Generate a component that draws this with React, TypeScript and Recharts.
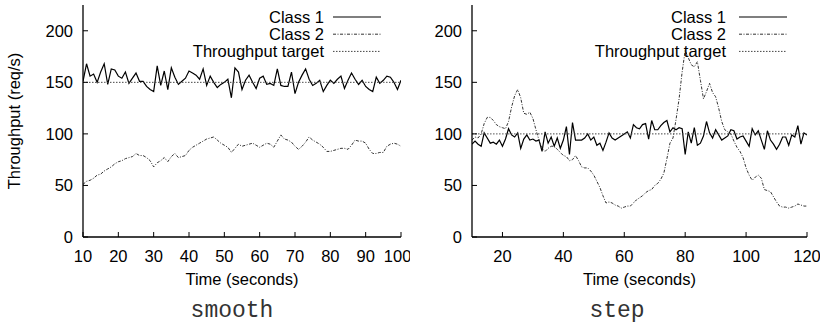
import React from 'react';
import { LineChart, Line, XAxis, YAxis, Legend, Label } from 'recharts';

// ---------- data ----------
const SMOOTH_START = 10;
const smoothClass1 = [
  151, 168, 156, 158, 150, 160, 168, 148, 163, 162,
  156, 154, 160, 149, 154, 159, 151, 151, 146, 143,
  141, 166, 147, 161, 143, 164, 155, 148, 151, 154,
  161, 159, 157, 153, 163, 147, 156, 150, 145, 148,
  150, 153, 135, 164, 160, 143, 152, 157, 150, 144,
  154, 156, 148, 149, 147, 163, 147, 146, 146, 160,
  139, 150, 157, 163, 153, 147, 149, 152, 141, 147,
  152, 149, 153, 156, 144, 152, 159, 153, 148, 152,
  146, 143, 141, 155, 149, 152, 156, 155, 150, 143,
  152,
];
const smoothClass2 = [
  51, 54, 55, 57, 60, 61, 64, 66, 68, 71,
  73, 74, 76, 77, 78, 81, 79, 79, 77, 74,
  68, 72, 74, 77, 73, 78, 81, 77, 78, 79,
  84, 87, 89, 91, 93, 95, 96, 97, 94, 91,
  89, 87, 82, 86, 90, 88, 89, 90, 91, 89,
  87, 89, 91, 90, 87, 93, 99, 95, 94, 92,
  88, 85, 88, 92, 97, 94, 92, 90, 87, 83,
  83, 84, 85, 86, 86, 85, 89, 94, 93, 93,
  91, 85, 81, 81, 82, 82, 88, 90, 91, 90,
  88,
];
const SMOOTH_TARGET = 150;
const smoothXTicks = [10, 20, 30, 40, 50, 60, 70, 80, 90, 100];

const STEP_START = 10;
const stepClass1 = [
  90, 93, 90, 88, 101, 96, 91, 92, 90, 94,
  88, 95, 105, 99, 97, 101, 86, 95, 99, 94,
  95, 93, 94, 83, 102, 91, 97, 88, 96, 86,
  94, 107, 80, 111, 94, 94, 94, 96, 100, 94,
  97, 89, 91, 84, 92, 101, 96, 94, 96, 98,
  100, 102, 96, 109, 106, 105, 109, 110, 95, 113,
  104, 104, 108, 111, 113, 102, 106, 104, 106, 105,
  80, 102, 91, 106, 89, 91, 98, 112, 101, 96,
  104, 99, 94, 96, 98, 104, 103, 95, 97, 98,
  93, 88, 105, 99, 103, 94, 85, 103, 94, 90,
  85, 90, 97, 97, 89, 99, 97, 108, 90, 101,
  99,
];
const stepClass2 = [
  94, 97, 96, 100, 110, 116, 116, 113, 109, 107,
  106, 105, 112, 126, 137, 143, 135, 120, 119, 121,
  115, 104, 94, 86, 83, 86, 88, 88, 85, 82,
  79, 78, 74, 75, 79, 74, 68, 67, 67, 64,
  60, 54, 48, 40, 33, 34, 33, 31, 30, 28,
  29, 30, 30, 33, 36, 38, 40, 43, 45, 46,
  50, 52, 56, 62, 76, 91, 96, 114, 134, 160,
  181, 174, 167, 165, 170, 152, 134, 141, 149, 140,
  136, 125, 112, 104, 102, 100, 93, 87, 83, 77,
  67, 60, 55, 58, 60, 57, 46, 45, 44, 39,
  34, 30, 29, 29, 28, 29, 30, 32, 31, 30,
  30,
];
const STEP_TARGET = 100;
const stepXTicks = [20, 40, 60, 80, 100, 120];

const yTicks = [0, 50, 100, 150, 200];
const seriesNames = ['Class 1', 'Class 2', 'Throughput target'];

// ---------- styles ----------
const SANS = '"Liberation Sans", Arial, Helvetica, sans-serif';
const MONO = '"Liberation Mono", "Courier New", monospace';
const FS = 16.5;
const SERIES = [
  { key: 'c1', name: seriesNames[0], stroke: '#000', width: 1.2, dash: undefined as string | undefined },
  { key: 'c2', name: seriesNames[1], stroke: '#333', width: 1, dash: '3 1.5 1 1.5' },
  { key: 'target', name: seriesNames[2], stroke: '#444', width: 1, dash: '1.5 1.5' },
];

function buildRows(start: number, c1: number[], c2: number[], target: number) {
  return c1.map((v, i) => ({ t: start + i, c1: v, c2: c2[i], target }));
}

const smoothData = buildRows(SMOOTH_START, smoothClass1, smoothClass2, SMOOTH_TARGET);
const stepData = buildRows(STEP_START, stepClass1, stepClass2, STEP_TARGET);

const tickStyle = { fill: '#000', fontSize: FS, fontFamily: SANS };

function LegendBox({ textEnd, lineStart, lineEnd }: { textEnd: number; lineStart: number; lineEnd: number }) {
  return (
    <svg width={230} height={62} style={{ display: 'block', overflow: 'visible' }}>
      {SERIES.map((s, i) => {
        const y = 23 + i * 17.2;
        return (
          <g key={s.key}>
            <text x={textEnd} y={y} textAnchor="end" fontSize={FS} fontFamily={SANS} fill="#000">
              {s.name}
            </text>
            <line
              x1={lineStart}
              x2={lineEnd}
              y1={y - 6}
              y2={y - 6}
              stroke={s.stroke}
              strokeWidth={s.width}
              strokeDasharray={s.dash}
            />
          </g>
        );
      })}
    </svg>
  );
}

type PanelProps = {
  left: number;
  width: number;
  yAxisWidth: number;
  marginRight: number;
  data: any[];
  xTicks: number[];
  xDomain: [number, number];
  showYLabel: boolean;
  legendTextEnd: number;
  legendLineStart: number;
  legendLineEnd: number;
};

function Panel(p: PanelProps) {
  return (
    <div style={{ position: 'absolute', left: p.left, top: 0 }}>
      <LineChart
        width={p.width}
        height={290}
        data={p.data}
        margin={{ top: 5, right: p.marginRight, bottom: 0, left: 0 }}
      >
        <XAxis
          xAxisId="b"
          dataKey="t"
          type="number"
          domain={p.xDomain}
          ticks={p.xTicks}
          allowDataOverflow
          height={53}
          tick={tickStyle}
          tickSize={-5}
          tickMargin={18}
          stroke="#000"
          axisLine={{ stroke: '#000', strokeWidth: 1.3 }}
          tickLine={{ stroke: '#000' }}
        >
          <Label
            value="Time (seconds)"
            position="insideBottom"
            offset={5}
            style={{ fill: '#000', fontSize: FS, fontFamily: SANS }}
          />
        </XAxis>
        <XAxis
          xAxisId="top"
          orientation="top"
          dataKey="t"
          type="number"
          domain={p.xDomain}
          ticks={p.xTicks}
          allowDataOverflow
          height={0}
          tick={false}
          tickSize={-5}
          axisLine={{ stroke: '#000', strokeWidth: 1.3 }}
          tickLine={{ stroke: '#000' }}
        />
        <YAxis
          yAxisId="l"
          type="number"
          domain={[0, 225]}
          ticks={yTicks}
          allowDataOverflow
          width={p.yAxisWidth}
          tick={tickStyle}
          tickSize={-5}
          tickMargin={15}
          axisLine={{ stroke: '#000', strokeWidth: 1.3 }}
          tickLine={{ stroke: '#000' }}
        >
          {p.showYLabel ? (
            <Label
              content={(props: any) => {
                const vb = props.viewBox || { y: 5, height: 232 };
                const cy = vb.y + vb.height / 2;
                return (
                  <text
                    x={20}
                    y={cy}
                    transform={`rotate(-90, 20, ${cy})`}
                    textAnchor="middle"
                    fontSize={FS}
                    fontFamily={SANS}
                    fill="#000"
                  >
                    Throughput (req/s)
                  </text>
                );
              }}
            />
          ) : null}
        </YAxis>
        <YAxis
          yAxisId="r"
          orientation="right"
          type="number"
          domain={[0, 225]}
          ticks={yTicks}
          allowDataOverflow
          width={0}
          tick={false}
          tickSize={-5}
          axisLine={{ stroke: '#000', strokeWidth: 1.3 }}
          tickLine={{ stroke: '#000' }}
        />
        <Legend
          layout="vertical"
          align="center"
          verticalAlign="middle"
          wrapperStyle={{ left: 180, top: 0, width: 230, height: 62 }}
          content={() => (
            <LegendBox textEnd={p.legendTextEnd} lineStart={p.legendLineStart} lineEnd={p.legendLineEnd} />
          )}
        />
        {SERIES.map((s) => (
          <Line
            key={s.key}
            xAxisId="b"
            yAxisId="l"
            dataKey={s.key}
            name={s.name}
            type="linear"
            stroke={s.stroke}
            strokeWidth={s.width}
            strokeDasharray={s.dash}
            dot={false}
            activeDot={false}
            isAnimationActive={false}
          />
        ))}
      </LineChart>
    </div>
  );
}

export default function App() {
  return (
    <div style={{ position: 'absolute', left: 0, top: 0, width: 826, height: 323, background: '#fff', overflow: 'hidden' }}>
      <Panel
        left={0}
        width={410}
        yAxisWidth={83}
        marginRight={9}
        data={smoothData}
        xTicks={smoothXTicks}
        xDomain={[10, 100]}
        showYLabel
        legendTextEnd={144}
        legendLineStart={153}
        legendLineEnd={201}
      />
      <Panel
        left={410}
        width={410}
        yAxisWidth={62}
        marginRight={13}
        data={stepData}
        xTicks={stepXTicks}
        xDomain={[10, 120]}
        showYLabel={false}
        legendTextEnd={136}
        legendLineStart={149}
        legendLineEnd={197}
      />
      <svg width={826} height={323} style={{ position: 'absolute', left: 0, top: 0, pointerEvents: 'none' }}>
        <text x={232} y={317} textAnchor="middle" fontSize={23} fontFamily={MONO} fill="#333">
          smooth
        </text>
        <text x={617} y={317} textAnchor="middle" fontSize={23} fontFamily={MONO} fill="#333">
          step
        </text>
      </svg>
    </div>
  );
}
